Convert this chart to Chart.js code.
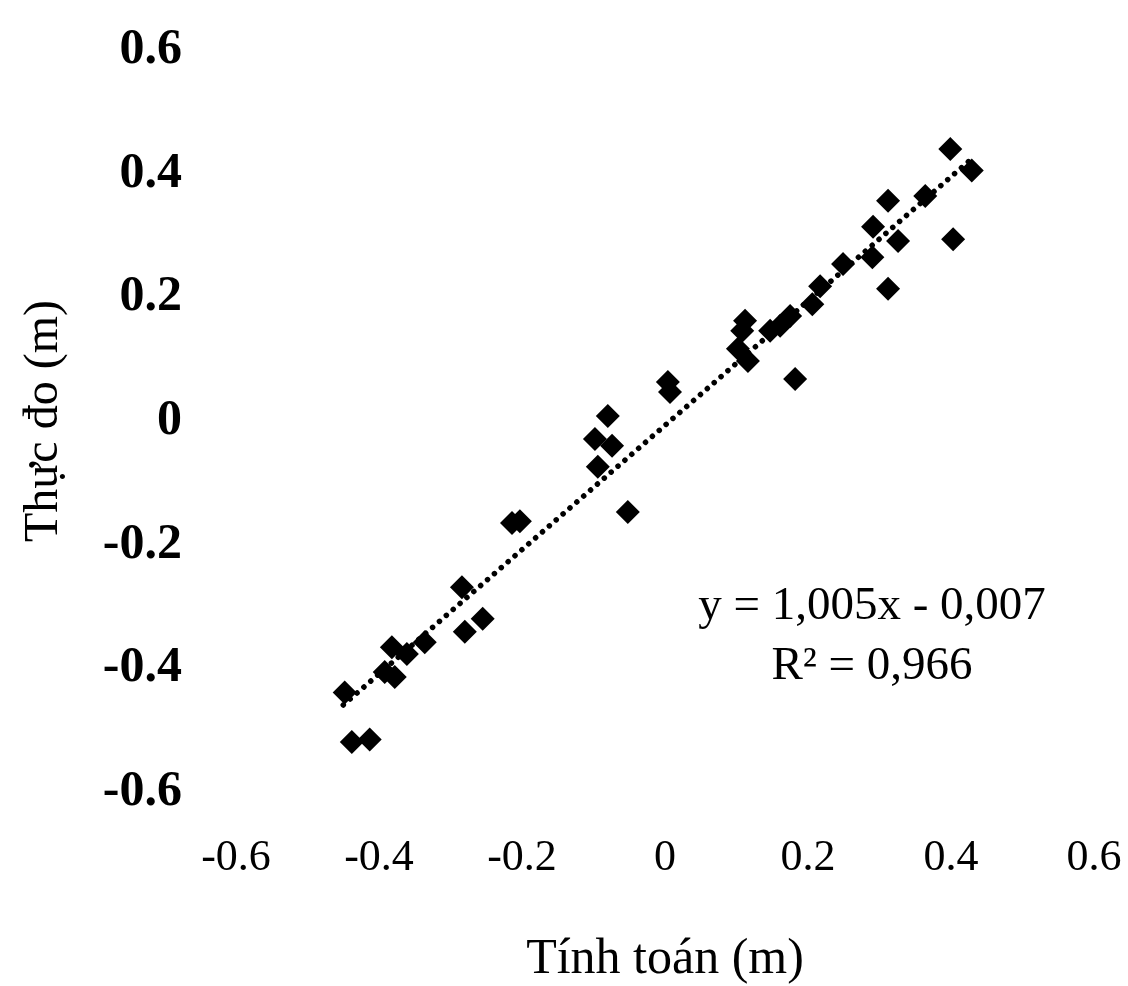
<!DOCTYPE html>
<html>
<head>
<meta charset="utf-8">
<script src="https://cdn.jsdelivr.net/npm/chart.js@4.4.1/dist/chart.umd.min.js"></script>
<style>
  body { margin: 0; background: #fff; }
  #wrap { width: 1128px; height: 986px; }
</style>
</head>
<body>
<div id="wrap"><canvas id="chart" width="1128" height="986"></canvas></div>
<script>
// Tính toán (calculated) vs Thực đo (measured), metres
const calcValues = [-0.448, -0.438, -0.413, -0.392, -0.382, -0.378, -0.361, -0.336, -0.284, -0.280,
  -0.255, -0.214, -0.203, -0.098, -0.094, -0.080, -0.074, -0.052, 0.004, 0.007,
  0.102, 0.108, 0.112, 0.116, 0.147, 0.161, 0.175, 0.182, 0.206, 0.217,
  0.249, 0.290, 0.291, 0.312, 0.312, 0.326, 0.364, 0.399, 0.403, 0.429];
const measValues = [-0.439, -0.519, -0.515, -0.406, -0.366, -0.414, -0.377, -0.358, -0.269, -0.341,
  -0.320, -0.165, -0.162, -0.029, -0.074, 0.008, -0.040, -0.147, 0.063, 0.047,
  0.117, 0.146, 0.162, 0.097, 0.146, 0.154, 0.170, 0.068, 0.189, 0.218,
  0.254, 0.265, 0.314, 0.356, 0.214, 0.291, 0.364, 0.440, 0.294, 0.405];

// linear trendline as printed on the chart
const trendSlope = 1.005;
const trendIntercept = -0.007;
const trendX = [-0.45, 0.43];

const tickValues = [-0.6, -0.4, -0.2, 0, 0.2, 0.4, 0.6];
const equationLines = ['y = 1,005x - 0,007', 'R\u00b2 = 0,966'];

const serif = '"Liberation Serif", "Times New Roman", serif';

// Function to draw the equation text next to the trendline
const equationPlugin = {
  id: 'equation',
  afterDatasetsDraw(chart) {
    const ctx = chart.ctx;
    const x = chart.scales.x.getPixelForValue(0.2895);
    const y = chart.scales.y.getPixelForValue(-0.320);
    ctx.save();
    ctx.fillStyle = '#000';
    ctx.font = '47px ' + serif;
    ctx.textAlign = 'center';
    ctx.textBaseline = 'alphabetic';
    equationLines.forEach((line, i) => ctx.fillText(line, x, y + i * 60));
    ctx.restore();
  }
};

const chart = new Chart(document.getElementById('chart').getContext('2d'), {
  type: 'scatter',
  data: {
    datasets: [{
      label: 'Trend',
      data: trendX.map(x => ({ x: x, y: trendSlope * x + trendIntercept })),
      showLine: true,
      borderColor: '#000',
      borderWidth: 5.5,
      borderDash: [0.1, 9],
      borderCapStyle: 'round',
      pointRadius: 0
    }, {
      label: 'Data',
      data: calcValues.map((x, i) => ({ x: x, y: measValues[i] })),
      pointStyle: 'rectRot',
      pointRadius: 12,
      pointBackgroundColor: '#000',
      pointBorderColor: '#000',
      pointBorderWidth: 0
    }]
  },
  options: {
    responsive: false,
    animation: false,
    layout: { padding: { top: 50, right: 34, left: 0, bottom: 0 } },
    plugins: { legend: { display: false }, tooltip: { enabled: false } },
    scales: {
      x: {
        min: -0.6, max: 0.6,
        border: { display: false },
        grid: { display: false, drawTicks: false },
        afterBuildTicks: s => { s.ticks = tickValues.map(v => ({ value: v })); },
        afterFit: s => { s.height = 194; s.paddingLeft = 0; s.paddingRight = 0; },
        ticks: {
          color: '#000', padding: 40,
          font: { family: serif, size: 44 },
          callback: v => String(v)
        },
        title: {
          display: true, text: 'Tính toán (m)', color: '#000',
          font: { family: serif, size: 50, lineHeight: 1 },
          padding: { top: 0, bottom: 1 }
        }
      },
      y: {
        min: -0.6, max: 0.6,
        border: { display: false },
        grid: { display: false, drawTicks: false },
        afterBuildTicks: s => { s.ticks = tickValues.map(v => ({ value: v })); },
        afterFit: s => { s.width = 236; s.paddingTop = 0; s.paddingBottom = 0; },
        ticks: {
          color: '#000', padding: 54,
          font: { family: serif, size: 50, weight: 'bold' },
          callback: v => String(v)
        },
        title: {
          display: true, text: 'Thực đo (m)', color: '#000',
          font: { family: serif, size: 48, lineHeight: 1 },
          padding: { top: 20, bottom: 0 }
        }
      }
    }
  },
  plugins: [equationPlugin]
});
</script>
</body>
</html>
